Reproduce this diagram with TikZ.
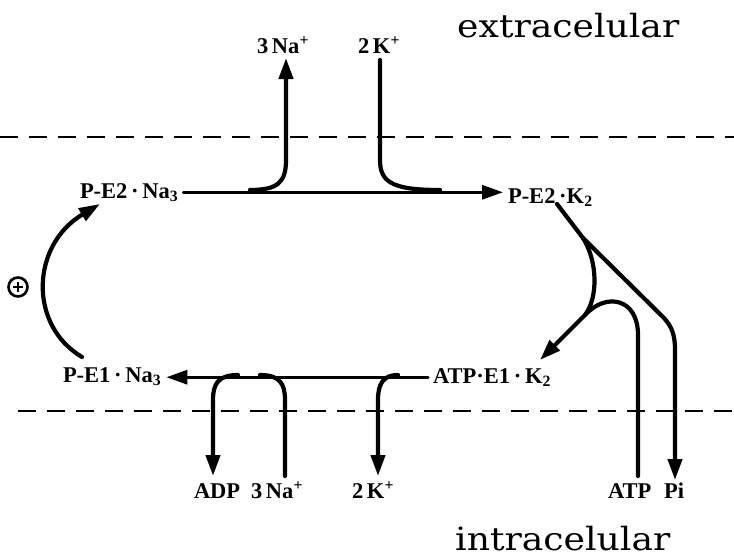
\documentclass[tikz,border=0pt]{standalone}
\usepackage{fontspec}
\setmainfont{Liberation Serif}
\newfontfamily\bigfont[FakeStretch=1.13]{DejaVu Serif}
\usetikzlibrary{arrows.meta}
\begin{document}
\begin{tikzpicture}[x=1pt,y=-1pt,
  lab/.style={font=\fontsize{22.5}{24}\selectfont\bfseries, inner sep=5pt, outer sep=0pt, anchor=base west},
  region/.style={font=\fontsize{32}{34}\selectfont\bigfont, inner sep=0pt, anchor=base west},
  memb/.style={line width=2.8pt, dash pattern=on 18pt off 11pt},
  flow/.style={line width=4.2pt, line cap=round},
  arr/.style={-{Triangle[length=21pt,width=14pt]}}]
\useasboundingbox (0,0) rectangle (734,558);
% membranes
\coordinate (m1a) at (0,137); \coordinate (m1b) at (734,137);
\coordinate (m2a) at (18,411); \coordinate (m2b) at (734,411);
\draw[memb] (m1a) -- (m1b);
\draw[memb] (m2a) -- (m2b);
% region labels
\node[region] (ext) at (457,37) {extracelular};
\node[region] (int) at (455,550) {intracelular};
% state labels
\node[lab] (pe2na) at (75,198) {P-E2\,·\,Na\textsubscript{3}};
\node[lab] (pe2k) at (503,203) {P-E2\,·K\textsubscript{2}};
\node[lab] (pe1na) at (58,382) {P-E1\,·\,Na\textsubscript{3}};
\node[lab] (atpek) at (428,383) {ATP·E1\,·\,K\textsubscript{2}};
% ion labels
\node[lab] (naout) at (252,53) {3\,Na\textsuperscript{+}};
\node[lab] (kout) at (353,53) {2\,K\textsuperscript{+}};
\node[lab] (adp) at (189,498) {ADP};
\node[lab] (nain) at (246,498) {3\,Na\textsuperscript{+}};
\node[lab] (kin) at (347,498) {2\,K\textsuperscript{+}};
\node[lab] (atp) at (603,498) {ATP};
\node[lab] (pi) at (659,498) {Pi};
% activation sign
\node[draw, circle, line width=2.6pt, minimum size=19pt, inner sep=0pt] (plus) at (18,287) {};
\draw[line width=2.4pt] (plus.center) ++(-5,0) -- ++(10,0);
\draw[line width=2.4pt] (plus.center) ++(0,-5) -- ++(0,10);
% junction coordinates
\coordinate (t1) at (250,190);
\coordinate (t2) at (440,190);
\coordinate (naup) at (286,58);
\coordinate (kdown) at (380,60);
\coordinate (b1) at (238,375);
\coordinate (b2) at (260,375);
\coordinate (b3) at (398,375);
\coordinate (r0) at (557,204);
\coordinate (r1) at (583,238);
\coordinate (r2) at (585,315);
% top reaction
\draw[flow, line width=3.2pt, arr] (pe2na.east) -- (pe2na.east -| pe2k.west);
\draw[flow, arr] (t1) .. controls (278,190) and (286,182) .. (286,160) -- (naup);
\draw[flow] (kdown) -- (380,160) .. controls (380,182) and (392,190) .. (t2);
% left conformational change
\draw[flow, arr] (82,357) .. controls (28,325) and (31,245) .. (100,204);
% right: hydrolysis
\draw[flow] (r0) -- (r1);
\draw[flow, arr] (r1) -- (664,318) .. controls (672,327) and (675,335) .. (675,350) -- (675,480);
\draw[flow, arr] (r1) .. controls (598,262) and (598,298) .. (r2) -- (540,360);
\draw[flow] (638,476) -- (638,335) .. controls (638,298) and (606,292) .. (r2);
% bottom reaction
\draw[flow, line width=3.2pt, arr] (atpek.west) -- (atpek.west -| pe1na.east);
\draw[flow, arr] (b1) .. controls (218,375) and (213,384) .. (213,400) -- (213,476);
\draw[flow] (285,476) -- (285,400) .. controls (285,384) and (280,375) .. (b2);
\draw[flow, arr] (b3) .. controls (383,375) and (378,384) .. (378,400) -- (378,476);
\end{tikzpicture}
\end{document}
